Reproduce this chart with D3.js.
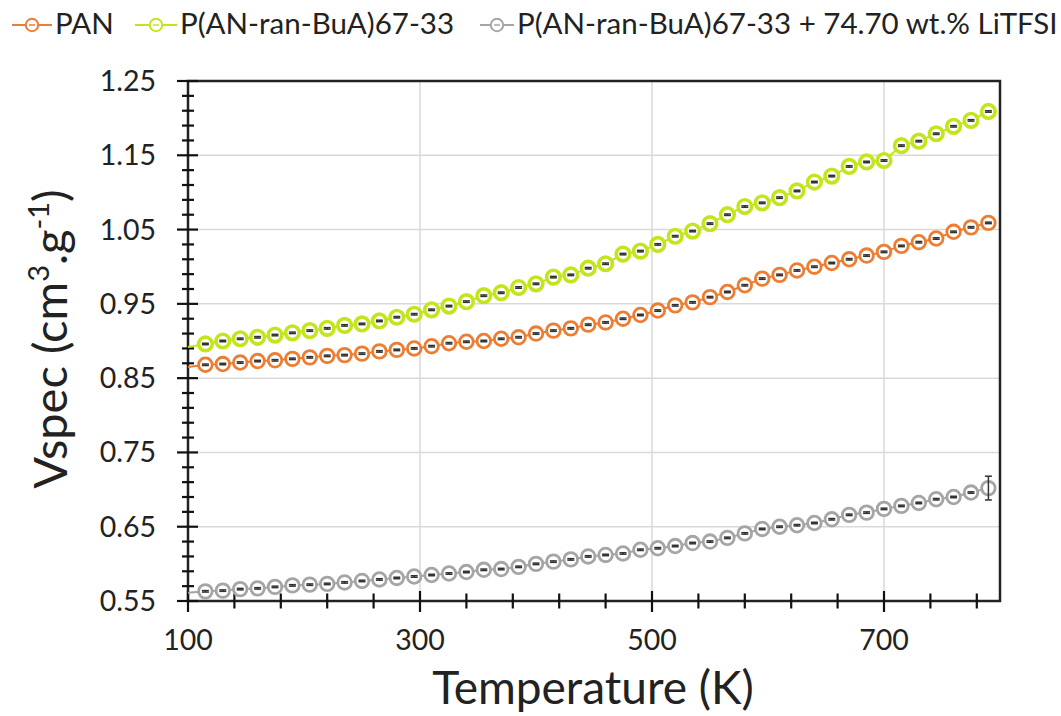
<!DOCTYPE html>
<html><head><meta charset="utf-8">
<script src="https://cdn.jsdelivr.net/npm/d3@7"></script>
<style>
body{margin:0;background:#fff}
svg{display:block}
text{font-family:Lato,"Open Sans",sans-serif;fill:#222}
</style>
</head><body>
<svg id="chart" width="1061" height="716"></svg>
<script>
// ---- data ----
const temperature = [100,115,130,145,160,175,190,205,220,235,250,265,280,295,310,325,340,355,370,385,400,415,430,445,460,475,490,505,520,535,550,565,580,595,610,625,640,655,670,685,700,715,730,745,760,775,790];
const seriesNames = ["PAN","P(AN-ran-BuA)67-33","P(AN-ran-BuA)67-33 + 74.70 wt.% LiTFSI"];
const vspecPAN = [0.865,0.868,0.869,0.871,0.873,0.874,0.876,0.878,0.880,0.881,
  0.883,0.886,0.888,0.890,0.893,0.897,0.899,0.900,0.903,0.905,
  0.910,0.914,0.917,0.922,0.925,0.930,0.935,0.941,0.948,0.952,
  0.959,0.966,0.975,0.984,0.989,0.995,1.000,1.005,1.010,1.015,
  1.020,1.028,1.033,1.038,1.047,1.053,1.059];
const vspecCopolymer = [0.892,0.896,0.900,0.903,0.905,0.908,0.911,0.914,0.917,0.921,
  0.923,0.927,0.932,0.936,0.942,0.947,0.953,0.961,0.965,0.972,
  0.977,0.986,0.989,0.998,1.004,1.017,1.021,1.030,1.041,1.048,
  1.058,1.070,1.081,1.086,1.093,1.102,1.114,1.122,1.135,1.141,
  1.143,1.163,1.169,1.179,1.189,1.197,1.209];
const vspecLiTFSI = [0.561,0.563,0.564,0.566,0.567,0.569,0.571,0.572,0.573,0.575,
  0.577,0.579,0.581,0.583,0.585,0.587,0.589,0.592,0.593,0.596,
  0.600,0.603,0.606,0.610,0.612,0.614,0.619,0.621,0.624,0.628,
  0.630,0.635,0.641,0.647,0.650,0.652,0.655,0.660,0.666,0.669,
  0.674,0.678,0.682,0.687,0.690,0.696,0.702];
const errTypical = 0.001;      // tiny error bars on most points
const errLiTFSILast = 0.016;   // visible error bar on the last LiTFSI point
const xTickLabels = [100,300,500,700];
const yTickLabels = [0.55,0.65,0.75,0.85,0.95,1.05,1.15,1.25];
const colors = ["#ED7D31","#C4E51B","#A5A5A5"];

// ---- layout ----
const svg = d3.select("#chart");
const L = 188, R = 1000, T = 81, B = 601;
const x = d3.scaleLinear().domain([100,800]).range([L,R]);
const y = d3.scaleLinear().domain([0.55,1.25]).range([B,T]);

svg.append("defs").append("clipPath").attr("id","plot")
  .append("rect").attr("x",L).attr("y",T).attr("width",R-L).attr("height",B-T);

// gridlines
svg.append("g").selectAll("line").data(yTickLabels.slice(1,-1)).join("line")
  .attr("x1",L).attr("x2",R).attr("y1",d=>y(d)).attr("y2",d=>y(d))
  .attr("stroke","#D9D9D9").attr("stroke-width",1.5);
svg.append("g").selectAll("line").data(xTickLabels.slice(1)).join("line")
  .attr("y1",T).attr("y2",B).attr("x1",d=>x(d)).attr("x2",d=>x(d))
  .attr("stroke","#D9D9D9").attr("stroke-width",1.5);

// frame
svg.append("rect").attr("x",L).attr("y",T).attr("width",R-L).attr("height",B-T)
  .attr("fill","none").attr("stroke","#222").attr("stroke-width",2.5);

// minor/major ticks (crossing)
const xMinor = d3.range(100,800,40);
svg.append("g").selectAll("line").data(xMinor).join("line")
  .attr("x1",d=>x(d)).attr("x2",d=>x(d))
  .attr("y1",d=>xTickLabels.includes(d)?B-10:B-7.5)
  .attr("y2",d=>xTickLabels.includes(d)?B+11:B+7.5)
  .attr("stroke","#111").attr("stroke-width",2.2);
const yMinor = d3.range(0,36).map(i=>0.55+i*0.02);
svg.append("g").selectAll("line").data(yMinor).join("line")
  .attr("y1",d=>y(d)).attr("y2",d=>y(d))
  .attr("x1",(d,i)=>i%5===0?L-11:L-6)
  .attr("x2",(d,i)=>i%5===0?L+10:L+6)
  .attr("stroke","#111").attr("stroke-width",2.2);

// tick labels
svg.append("g").selectAll("text").data(yTickLabels).join("text")
  .attr("x",156).attr("y",d=>y(d)).attr("dy","0.35em")
  .attr("text-anchor","end").attr("font-size",28.5).text(d=>d.toFixed(2));
svg.append("g").selectAll("text").data(xTickLabels).join("text")
  .attr("x",d=>x(d)).attr("y",650).attr("text-anchor","middle")
  .attr("font-size",28.5).text(d=>d);

// axis titles
svg.append("text").attr("x",593).attr("y",704).attr("text-anchor","middle")
  .attr("font-size",46).text("Temperature (K)");
const yt = svg.append("text").attr("transform","translate(67,339) rotate(-90)")
  .attr("text-anchor","middle").attr("font-size",47);
yt.append("tspan").text("Vspec (cm");
yt.append("tspan").attr("font-size",29).attr("dy",-18).text("3");
yt.append("tspan").attr("dy",18).text(".g");
yt.append("tspan").attr("font-size",29).attr("dy",-18).text("-1");
yt.append("tspan").attr("dy",18).text(")");

// series
const series = [vspecPAN, vspecCopolymer, vspecLiTFSI].map((vals,si)=>({
  name: seriesNames[si], color: colors[si],
  pts: temperature.map((t,i)=>({t, v: vals[i],
    e: (si===2 && i===temperature.length-1) ? errLiTFSILast : errTypical}))
}));
const line = d3.line().x(d=>x(d.t)).y(d=>y(d.v));
const g = svg.append("g").attr("clip-path","url(#plot)");
series.forEach((s,si)=>{
  g.append("path").datum(s.pts).attr("d",line).attr("fill","none")
    .attr("stroke",s.color).attr("stroke-width",2);
  const vis = s.pts.filter(p=>p.t>x.domain()[0]);
  g.append("g").selectAll("circle").data(vis).join("circle")
    .attr("cx",d=>x(d.t)).attr("cy",d=>y(d.v)).attr("r",6.8)
    .attr("fill","#fff").attr("stroke",s.color).attr("stroke-width",si===1?3.6:2.8);
  // error bars
  const eb = g.append("g").attr("stroke","#333").attr("stroke-width",1.5);
  vis.forEach(p=>{
    const cx = x(p.t), y0 = y(p.v+p.e), y1 = y(p.v-p.e);
    eb.append("line").attr("x1",cx).attr("x2",cx).attr("y1",y0).attr("y2",y1);
    eb.append("line").attr("x1",cx-3.5).attr("x2",cx+3.5).attr("y1",y0).attr("y2",y0);
    eb.append("line").attr("x1",cx-3.5).attr("x2",cx+3.5).attr("y1",y1).attr("y2",y1);
  });
});

// legend
const legX = [12,135,480], legTextX = [55,180,517];
series.forEach((s,i)=>{
  const lg = svg.append("g");
  const cx = (legX[i]+legTextX[i]-3)/2;
  lg.append("line").attr("x1",legX[i]).attr("x2",legTextX[i]-3).attr("y1",25).attr("y2",25)
    .attr("stroke",s.color).attr("stroke-width",2);
  lg.append("circle").attr("cx",cx).attr("cy",25).attr("r",6.2)
    .attr("fill","#fff").attr("stroke",s.color).attr("stroke-width",2);
  lg.append("line").attr("x1",cx-3).attr("x2",cx+3)
    .attr("y1",25).attr("y2",25).attr("stroke",s.color).attr("stroke-width",1.5);
  lg.append("text").attr("x",legTextX[i]).attr("y",34).attr("font-size",29.5).text(s.name);
});
</script>
</body></html>
